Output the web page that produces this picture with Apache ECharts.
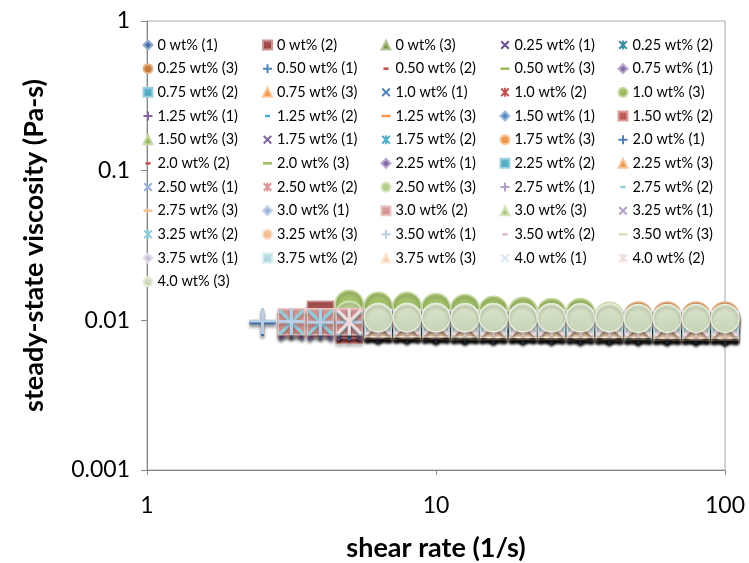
<!DOCTYPE html>
<html>
<head>
<meta charset="utf-8">
<script src="https://cdn.jsdelivr.net/npm/echarts@6/dist/echarts.min.js"></script>
<style>
  html, body { margin: 0; padding: 0; background: #ffffff; }
  #chart { width: 749px; height: 563px; }
</style>
</head>
<body>
<div id="chart"></div>
<script>
// Shear rates of the sweep (1/s)
const shearRate = [2.51, 3.16, 3.98, 5.01, 6.31, 7.94, 10.0, 12.6, 15.8, 20.0, 25.1, 31.6, 39.8, 50.1, 63.1, 79.4, 100];

const xTickLabels = ['1', '10', '100'];
const yTickLabels = ['0.001', '0.01', '0.1', '1'];

const concentrations = ['0', '0.25', '0.50', '0.75', '1.0', '1.25', '1.50', '1.75', '2.0',
  '2.25', '2.50', '2.75', '3.0', '3.25', '3.50', '3.75', '4.0'];

// Steady-state viscosity (Pa-s), three runs per concentration
const visc_0_00 = [
  [null, 0.0093, 0.0092, 0.0090, 0.0088, 0.0088, 0.0087, 0.0087, 0.0087, 0.0087, 0.0086, 0.0086, 0.0086, 0.0086, 0.0086, 0.0085, 0.0085],
  [null, null, 0.0110, 0.0086, 0.0094, 0.0094, 0.0093, 0.0093, 0.0093, 0.0092, 0.0092, 0.0092, 0.0092, 0.0092, 0.0091, 0.0091, 0.0091],
  [null, null, null, null, 0.0093, 0.0093, 0.0092, 0.0092, 0.0092, 0.0092, 0.0091, 0.0091, 0.0091, 0.0091, 0.0090, 0.0090, 0.0090]
];
const visc_0_25 = [
  [null, 0.0091, 0.0090, 0.0090, 0.0089, 0.0089, 0.0089, 0.0088, 0.0088, 0.0088, 0.0088, 0.0088, 0.0087, 0.0087, 0.0087, 0.0087, 0.0087],
  [null, 0.0094, 0.0093, 0.0092, 0.0091, 0.0091, 0.0091, 0.0090, 0.0090, 0.0090, 0.0090, 0.0090, 0.0089, 0.0089, 0.0089, 0.0089, 0.0089],
  [null, null, null, null, 0.0105, 0.0105, 0.0105, 0.0105, 0.0106, 0.0106, 0.0106, 0.0106, 0.0106, 0.0107, 0.0107, 0.0107, 0.0107]
];
const visc_0_50 = [
  [0.0097, 0.0095, 0.0093, 0.0091, 0.0089, 0.0089, 0.0088, 0.0088, 0.0088, 0.0088, 0.0087, 0.0087, 0.0087, 0.0087, 0.0087, 0.0086, 0.0086],
  [null, null, null, null, 0.0086, 0.0086, 0.0086, 0.0085, 0.0085, 0.0085, 0.0085, 0.0085, 0.0085, 0.0084, 0.0084, 0.0084, 0.0084],
  [null, null, null, null, 0.0083, 0.0083, 0.0083, 0.0082, 0.0082, 0.0082, 0.0082, 0.0082, 0.0082, 0.0081, 0.0081, 0.0081, 0.0081]
];
const visc_0_75 = [
  [null, null, null, null, 0.0089, 0.0089, 0.0088, 0.0088, 0.0088, 0.0088, 0.0088, 0.0087, 0.0087, 0.0087, 0.0087, 0.0087, 0.0087],
  [null, null, null, null, 0.0092, 0.0092, 0.0091, 0.0091, 0.0091, 0.0091, 0.0090, 0.0090, 0.0090, 0.0090, 0.0090, 0.0090, 0.0089],
  [null, null, null, null, 0.0091, 0.0091, 0.0090, 0.0090, 0.0090, 0.0090, 0.0090, 0.0089, 0.0089, 0.0089, 0.0089, 0.0089, 0.0089]
];
const visc_1_00 = [
  [null, 0.0092, 0.0091, 0.0090, 0.0090, 0.0089, 0.0089, 0.0089, 0.0089, 0.0089, 0.0088, 0.0088, 0.0088, 0.0088, 0.0088, 0.0088, 0.0088],
  [null, null, null, null, 0.0091, 0.0091, 0.0090, 0.0090, 0.0090, 0.0090, 0.0090, 0.0089, 0.0089, 0.0089, 0.0089, 0.0089, 0.0089],
  [null, null, null, 0.0128, 0.0124, 0.0124, 0.0122, 0.0120, 0.0117, 0.0115, 0.0113, 0.0113, 0.0106, 0.0102, 0.0101, 0.0101, 0.0100]
];
const visc_1_25 = [
  [null, null, null, null, 0.0089, 0.0089, 0.0089, 0.0088, 0.0088, 0.0088, 0.0088, 0.0088, 0.0088, 0.0087, 0.0087, 0.0087, 0.0087],
  [null, null, null, null, 0.0090, 0.0090, 0.0090, 0.0089, 0.0089, 0.0089, 0.0089, 0.0089, 0.0089, 0.0088, 0.0088, 0.0088, 0.0088],
  [null, null, null, null, 0.0079, 0.0079, 0.0079, 0.0079, 0.0078, 0.0078, 0.0078, 0.0078, 0.0078, 0.0078, 0.0078, 0.0077, 0.0077]
];
const visc_1_50 = [
  [null, null, null, null, 0.0087, 0.0087, 0.0087, 0.0087, 0.0086, 0.0086, 0.0086, 0.0086, 0.0086, 0.0086, 0.0086, 0.0086, 0.0085],
  [null, 0.0095, 0.0094, 0.0093, 0.0092, 0.0092, 0.0092, 0.0091, 0.0091, 0.0091, 0.0091, 0.0091, 0.0090, 0.0090, 0.0090, 0.0090, 0.0090],
  [null, null, null, null, 0.0093, 0.0093, 0.0093, 0.0092, 0.0092, 0.0092, 0.0092, 0.0092, 0.0091, 0.0091, 0.0091, 0.0091, 0.0091]
];
const visc_1_75 = [
  [null, 0.0090, 0.0089, 0.0089, 0.0089, 0.0088, 0.0088, 0.0088, 0.0088, 0.0088, 0.0088, 0.0087, 0.0087, 0.0087, 0.0087, 0.0087, 0.0087],
  [null, null, null, null, 0.0090, 0.0090, 0.0090, 0.0089, 0.0089, 0.0089, 0.0089, 0.0089, 0.0089, 0.0088, 0.0088, 0.0088, 0.0088],
  [null, null, null, null, 0.0099, 0.0099, 0.0099, 0.0098, 0.0098, 0.0098, 0.0098, 0.0098, 0.0098, 0.0097, 0.0097, 0.0097, 0.0097]
];
const visc_2_00 = [
  [0.0096, 0.0094, 0.0092, 0.0090, 0.0088, 0.0088, 0.0088, 0.0087, 0.0087, 0.0087, 0.0087, 0.0087, 0.0087, 0.0086, 0.0086, 0.0086, 0.0086],
  [null, null, null, null, 0.0088, 0.0088, 0.0088, 0.0087, 0.0087, 0.0087, 0.0087, 0.0087, 0.0087, 0.0087, 0.0086, 0.0086, 0.0086],
  [null, null, null, null, 0.0082, 0.0082, 0.0082, 0.0082, 0.0082, 0.0082, 0.0081, 0.0081, 0.0081, 0.0081, 0.0081, 0.0081, 0.0081]
];
const visc_2_25 = [
  [null, null, null, null, 0.0090, 0.0090, 0.0089, 0.0089, 0.0089, 0.0089, 0.0089, 0.0089, 0.0088, 0.0088, 0.0088, 0.0088, 0.0088],
  [null, null, null, null, 0.0093, 0.0093, 0.0093, 0.0092, 0.0092, 0.0092, 0.0092, 0.0092, 0.0092, 0.0091, 0.0091, 0.0091, 0.0091],
  [null, null, null, null, 0.0092, 0.0092, 0.0092, 0.0091, 0.0091, 0.0091, 0.0091, 0.0091, 0.0091, 0.0091, 0.0090, 0.0090, 0.0090]
];
const visc_2_50 = [
  [null, 0.0096, 0.0095, 0.0094, 0.0093, 0.0093, 0.0093, 0.0092, 0.0092, 0.0092, 0.0092, 0.0092, 0.0092, 0.0091, 0.0091, 0.0091, 0.0091],
  [null, null, null, 0.0097, 0.0095, 0.0095, 0.0095, 0.0094, 0.0094, 0.0094, 0.0094, 0.0094, 0.0093, 0.0093, 0.0093, 0.0093, 0.0093],
  [null, null, null, 0.0108, 0.0105, 0.0105, 0.0105, 0.0104, 0.0104, 0.0104, 0.0104, 0.0103, 0.0103, 0.0102, 0.0102, 0.0102, 0.0101]
];
const visc_2_75 = [
  [null, null, null, null, 0.0093, 0.0093, 0.0093, 0.0092, 0.0092, 0.0092, 0.0092, 0.0092, 0.0091, 0.0091, 0.0091, 0.0091, 0.0091],
  [null, null, null, null, 0.0092, 0.0092, 0.0092, 0.0091, 0.0091, 0.0091, 0.0091, 0.0091, 0.0091, 0.0090, 0.0090, 0.0090, 0.0090],
  [null, null, null, null, 0.0093, 0.0093, 0.0093, 0.0093, 0.0092, 0.0092, 0.0092, 0.0092, 0.0092, 0.0092, 0.0092, 0.0091, 0.0091]
];
const visc_3_00 = [
  [null, null, null, null, 0.0092, 0.0092, 0.0092, 0.0091, 0.0091, 0.0091, 0.0091, 0.0091, 0.0091, 0.0090, 0.0090, 0.0090, 0.0090],
  [null, 0.0098, 0.0098, 0.0098, 0.0097, 0.0097, 0.0096, 0.0096, 0.0096, 0.0096, 0.0096, 0.0095, 0.0095, 0.0095, 0.0095, 0.0095, 0.0095],
  [null, null, null, null, 0.0094, 0.0094, 0.0094, 0.0093, 0.0093, 0.0093, 0.0093, 0.0093, 0.0093, 0.0092, 0.0092, 0.0092, 0.0092]
];
const visc_3_25 = [
  [null, null, null, null, 0.0094, 0.0094, 0.0094, 0.0093, 0.0093, 0.0093, 0.0093, 0.0093, 0.0093, 0.0092, 0.0092, 0.0092, 0.0092],
  [null, 0.0097, 0.0097, 0.0096, 0.0096, 0.0096, 0.0095, 0.0095, 0.0095, 0.0095, 0.0095, 0.0094, 0.0094, 0.0094, 0.0094, 0.0094, 0.0094],
  [null, null, null, null, 0.0094, 0.0094, 0.0094, 0.0094, 0.0093, 0.0093, 0.0093, 0.0093, 0.0093, 0.0093, 0.0093, 0.0092, 0.0092]
];
const visc_3_50 = [
  [0.0099, 0.0098, 0.0097, 0.0097, 0.0096, 0.0096, 0.0095, 0.0095, 0.0095, 0.0095, 0.0095, 0.0094, 0.0094, 0.0094, 0.0094, 0.0094, 0.0094],
  [null, null, null, null, 0.0096, 0.0096, 0.0096, 0.0095, 0.0095, 0.0095, 0.0095, 0.0095, 0.0095, 0.0094, 0.0094, 0.0094, 0.0094],
  [null, null, null, null, 0.0095, 0.0095, 0.0095, 0.0094, 0.0094, 0.0094, 0.0094, 0.0094, 0.0094, 0.0093, 0.0093, 0.0093, 0.0093]
];
const visc_3_75 = [
  [null, null, null, null, 0.0095, 0.0095, 0.0095, 0.0094, 0.0094, 0.0094, 0.0094, 0.0094, 0.0093, 0.0093, 0.0093, 0.0093, 0.0093],
  [null, null, null, null, 0.0096, 0.0096, 0.0096, 0.0095, 0.0095, 0.0095, 0.0095, 0.0095, 0.0095, 0.0094, 0.0094, 0.0094, 0.0094],
  [null, null, null, null, 0.0095, 0.0095, 0.0095, 0.0095, 0.0094, 0.0094, 0.0094, 0.0094, 0.0094, 0.0094, 0.0093, 0.0093, 0.0093]
];
const visc_4_00 = [
  [null, null, null, null, 0.0097, 0.0097, 0.0097, 0.0096, 0.0096, 0.0096, 0.0096, 0.0096, 0.0095, 0.0095, 0.0095, 0.0095, 0.0095],
  [null, null, null, 0.0098, 0.0097, 0.0097, 0.0097, 0.0096, 0.0096, 0.0096, 0.0096, 0.0096, 0.0096, 0.0095, 0.0095, 0.0095, 0.0095],
  [null, null, null, null, 0.0104, 0.0104, 0.0104, 0.0104, 0.0104, 0.0104, 0.0104, 0.0104, 0.0104, 0.0103, 0.0103, 0.0103, 0.0103]
];

const runsByConcentration = [visc_0_00, visc_0_25, visc_0_50, visc_0_75, visc_1_00, visc_1_25,
  visc_1_50, visc_1_75, visc_2_00, visc_2_25, visc_2_50, visc_2_75, visc_3_00, visc_3_25,
  visc_3_50, visc_3_75, visc_4_00];

// ---- styling ----
const FONT = 'Lato, "Open Sans", sans-serif';
const AXIS_GREY = '#868686';

// Office-style accent tints: darker, base, lighter 40/60/80 %
const tintDark = ['#3D68A2', '#A03E3A', '#7E9B48', '#6A5290', '#3A8CA4', '#CB772F'];
const tintBase = ['#4F81BD', '#C0504D', '#9BBB59', '#8064A2', '#4BACC6', '#F79646'];
const tint40 = ['#95B3D7', '#D99694', '#B5CF86', '#B2A1C7', '#92CDDC', '#FAC08F'];
const tint60 = ['#B9CDE5', '#E6B9B8', '#D7E4BD', '#CCC1DA', '#B7DEE8', '#FCD5B5'];
const tint80 = ['#DCE6F2', '#F2DCDB', '#D3E0C1', '#E6E0EC', '#DBEEF4', '#FDEADA'];

function seriesColor(i) {
  const k = i % 6;
  if (i < 6) return tintDark[k];
  if (i < 30) return tintBase[k];
  if (i < 42) return tint40[k];
  if (i < 48) return tint60[k];
  return tint80[k];
}

// marker outlines drawn in a 10x10 box (zero-length moves pin the box for the dashes)
const SYM_X = 'path://M0,0.85L0.85,0L5,4.15L9.15,0L10,0.85L5.85,5L10,9.15L9.15,10L5,5.85L0.85,10L0,9.15L4.15,5Z';
const SYM_STAR = SYM_X + 'M4.4,0H5.6V10H4.4Z';
const SYM_PLUS = 'path://M4.4,0H5.6V4.4H10V5.6H5.6V10H4.4V5.6H0V4.4H4.4Z';
const SYM_DASH = 'path://M0,0L0,0M10,10L10,10M2.6,4.3H7.4V5.7H2.6Z';
const SYM_LDASH = 'path://M0,0L0,0M10,10L10,10M0,4.3H10V5.7H0Z';
const markerCycle = ['diamond', 'rect', 'triangle', SYM_X, SYM_STAR, 'circle', SYM_PLUS, SYM_DASH, SYM_LDASH];

// heavier strokes for the small legend keys
const KEY_X = 'path://M0,1.6L1.6,0L5,3.4L8.4,0L10,1.6L6.6,5L10,8.4L8.4,10L5,6.6L1.6,10L0,8.4L3.4,5Z';
const KEY_STAR = KEY_X + 'M4,0H6V10H4Z';
const KEY_PLUS = 'path://M3.9,0H6.1V3.9H10V6.1H6.1V10H3.9V6.1H0V3.9H3.9Z';
const KEY_DASH = 'path://M0,0L0,0M10,10L10,10M2.2,3.6H7.8V6.4H2.2Z';
const KEY_LDASH = 'path://M0,0L0,0M10,10L10,10M0,3.6H10V6.4H0Z';
const keyCycle = ['diamond', 'rect', 'triangle', KEY_X, KEY_STAR, 'circle', KEY_PLUS, KEY_DASH, KEY_LDASH];

const filledMarkers = ['diamond', 'rect', 'triangle', 'circle'];

function mix(hex, target, t) {
  const a = parseInt(hex.slice(1), 16), b = parseInt(target.slice(1), 16);
  const ch = (v, s) => (v >> s) & 255;
  const m = s => Math.round(ch(a, s) + (ch(b, s) - ch(a, s)) * t);
  return '#' + ((1 << 24) + (m(16) << 16) + (m(8) << 8) + m(0)).toString(16).slice(1);
}

function markerStyle(color, filled) {
  const base = {
    opacity: 1,
    shadowColor: 'rgba(0,0,0,0.22)', shadowBlur: 3, shadowOffsetX: 0, shadowOffsetY: 3
  };
  if (!filled) {
    return Object.assign(base, { color: color, borderWidth: 0 });
  }
  return Object.assign(base, {
    color: {
      type: 'linear', x: 0, y: 0, x2: 0, y2: 1,
      colorStops: [
        { offset: 0, color: mix(color, '#ffffff', 0.15) },
        { offset: 1, color: mix(color, '#000000', 0.06) }
      ]
    },
    borderColor: mix(color, '#ffffff', 0.45),
    borderWidth: 1.5
  });
}

const legendItems = [];
const seriesList = [];
concentrations.forEach((c, ci) => {
  runsByConcentration[ci].forEach((run, ri) => {
    const i = seriesList.length;
    const name = c + ' wt% (' + (ri + 1) + ')';
    const symbol = markerCycle[i % markerCycle.length];
    const filled = filledMarkers.includes(symbol);
    const color = seriesColor(i);
    const data = [];
    run.forEach((v, k) => { if (v !== null) data.push([shearRate[k], v]); });
    legendItems.push({ name: name, icon: keyCycle[i % keyCycle.length] });
    seriesList.push({
      type: 'scatter',
      name: name,
      data: data,
      symbol: symbol,
      symbolSize: symbol === 'circle' ? 28 : 26,
      clip: false,
      silent: true,
      itemStyle: markerStyle(color, filled)
    });
  });
});

// Legend laid out as five aligned columns
const legendColumnX = [147, 266.5, 385, 504, 622];
const legends = legendColumnX.map((cx, col) => ({
  orient: 'vertical',
  left: cx - 4.5,
  top: 37,
  padding: 0,
  itemWidth: 9,
  itemHeight: 9,
  itemGap: 7.67,
  selectedMode: false,
  itemStyle: { opacity: 1, shadowBlur: 0, shadowOffsetY: 0, shadowColor: 'transparent' },
  textStyle: { fontFamily: FONT, fontSize: 14.5, color: '#000', lineHeight: 16 },
  data: legendItems.filter((_, i) => i % 5 === col)
}));

const logLabel = (labels, offset) => v => labels[Math.round(Math.log10(v)) + offset];

const option = {
  animation: false,
  backgroundColor: '#ffffff',
  grid: {
    left: 147, right: 24, top: 21, bottom: 93,
    show: true, borderColor: '#A6A6A6', borderWidth: 1,
    outerBoundsMode: 'none'
  },
  legend: legends,
  xAxis: {
    type: 'log', logBase: 10, min: 1, max: 100,
    name: 'shear rate (1/s)', nameLocation: 'middle', nameGap: 65,
    nameTextStyle: { fontFamily: FONT, fontSize: 27, fontWeight: 'bold', color: '#000' },
    axisLine: { show: true, lineStyle: { color: AXIS_GREY, width: 1 } },
    axisTick: { show: true, inside: false, length: 5, lineStyle: { color: AXIS_GREY } },
    minorTick: { show: false },
    splitLine: { show: false },
    axisLabel: { formatter: logLabel(xTickLabels, 0), margin: 24, fontFamily: FONT, fontSize: 23, color: '#000' }
  },
  yAxis: {
    type: 'log', logBase: 10, min: 0.001, max: 1,
    name: 'steady-state viscosity (Pa-s)', nameLocation: 'middle', nameGap: 99, nameRotate: 90,
    nameTextStyle: { fontFamily: FONT, fontSize: 27, fontWeight: 'bold', color: '#000' },
    axisLine: { show: true, lineStyle: { color: AXIS_GREY, width: 1 } },
    axisTick: { show: true, inside: false, length: 6, lineStyle: { color: AXIS_GREY } },
    minorTick: { show: false },
    splitLine: { show: false },
    axisLabel: { formatter: logLabel(yTickLabels, 3), margin: 17, fontFamily: FONT, fontSize: 23, color: '#000' }
  },
  series: seriesList
};

const chart = echarts.init(document.getElementById('chart'), null, { renderer: 'canvas' });
chart.setOption(option);
</script>
</body>
</html>
